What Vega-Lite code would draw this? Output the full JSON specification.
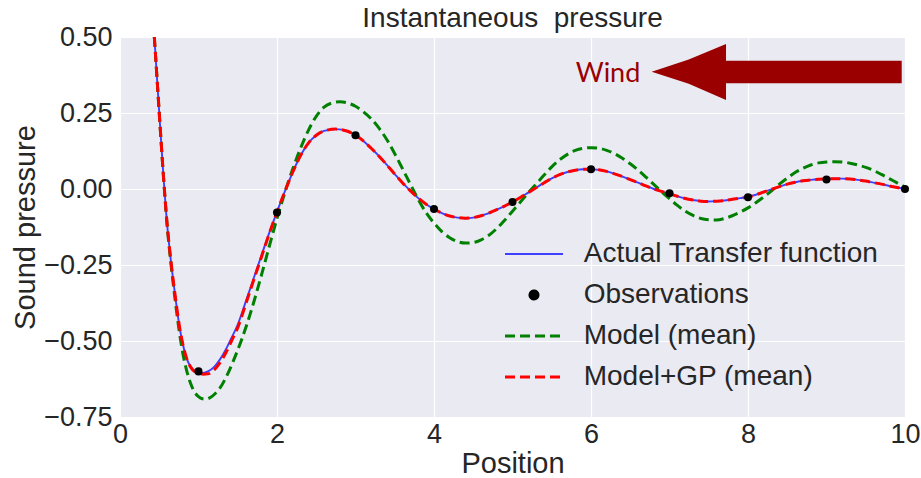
{
  "$schema": "https://vega.github.io/schema/vega-lite/v6.json",
  "width": 785,
  "height": 380,
  "autosize": {"type": "none"},
  "padding": {"left": 120, "top": 37, "right": 16, "bottom": 61},
  "background": "#ffffff",
  "title": {"text": "Instantaneous\u00a0 pressure", "font": "Liberation Sans", "fontSize": 28, "fontWeight": "normal", "color": "#262626", "frame": "group", "anchor": "middle", "baseline": "alphabetic", "offset": -32},
  "config": {
    "view": {"fill": "#EAEAF2", "stroke": null},
    "axis": {"domain": false, "ticks": false, "gridColor": "#ffffff", "gridWidth": 1.2, "labelFont": "Liberation Sans", "labelFontSize": 27, "labelColor": "#262626", "titleFont": "Liberation Sans", "titleFontSize": 29, "titleFontWeight": "normal", "titleColor": "#262626"}
  },
  "datasets": {
    "actual": [
      {"x":0.437,"y":0.5},{"x":0.45,"y":0.45},{"x":0.5,"y":0.25},{"x":0.55,"y":0.055},{"x":0.6,"y":-0.115},{"x":0.65,"y":-0.24},{"x":0.7,"y":-0.345},{"x":0.75,"y":-0.44},{"x":0.8,"y":-0.51},{"x":0.85,"y":-0.558},{"x":0.9,"y":-0.585},{"x":0.95,"y":-0.598},{"x":1.0,"y":-0.603},{"x":1.06,"y":-0.605},{"x":1.12,"y":-0.6},{"x":1.2,"y":-0.585},{"x":1.27,"y":-0.562},{"x":1.35,"y":-0.527},{"x":1.42,"y":-0.49},{"x":1.5,"y":-0.446},{"x":1.6,"y":-0.372},{"x":1.7,"y":-0.296},{"x":1.8,"y":-0.22},{"x":1.9,"y":-0.145},{"x":2.0,"y":-0.075},{"x":2.1,"y":-0.008},{"x":2.2,"y":0.055},{"x":2.3,"y":0.11},{"x":2.4,"y":0.151},{"x":2.5,"y":0.177},{"x":2.6,"y":0.191},{"x":2.75,"y":0.197},{"x":2.9,"y":0.19},{"x":3.0,"y":0.177},{"x":3.1,"y":0.158},{"x":3.2,"y":0.134},{"x":3.3,"y":0.108},{"x":3.4,"y":0.079},{"x":3.5,"y":0.049},{"x":3.6,"y":0.02},{"x":3.7,"y":-0.006},{"x":3.8,"y":-0.03},{"x":3.9,"y":-0.05},{"x":4.0,"y":-0.066},{"x":4.1,"y":-0.079},{"x":4.2,"y":-0.089},{"x":4.3,"y":-0.094},{"x":4.4,"y":-0.096},{"x":4.5,"y":-0.094},{"x":4.6,"y":-0.088},{"x":4.7,"y":-0.079},{"x":4.8,"y":-0.068},{"x":4.9,"y":-0.056},{"x":5.0,"y":-0.043},{"x":5.1,"y":-0.028},{"x":5.2,"y":-0.012},{"x":5.3,"y":0.004},{"x":5.4,"y":0.02},{"x":5.5,"y":0.035},{"x":5.6,"y":0.047},{"x":5.7,"y":0.056},{"x":5.8,"y":0.062},{"x":5.9,"y":0.065},{"x":6.0,"y":0.065},{"x":6.1,"y":0.063},{"x":6.2,"y":0.058},{"x":6.3,"y":0.05},{"x":6.4,"y":0.041},{"x":6.5,"y":0.031},{"x":6.6,"y":0.021},{"x":6.7,"y":0.01},{"x":6.8,"y":0.0},{"x":6.9,"y":-0.008},{"x":7.0,"y":-0.016},{"x":7.1,"y":-0.024},{"x":7.2,"y":-0.031},{"x":7.3,"y":-0.036},{"x":7.4,"y":-0.04},{"x":7.5,"y":-0.041},{"x":7.6,"y":-0.04},{"x":7.7,"y":-0.038},{"x":7.8,"y":-0.034},{"x":7.9,"y":-0.03},{"x":8.0,"y":-0.026},{"x":8.1,"y":-0.019},{"x":8.2,"y":-0.01},{"x":8.3,"y":-0.001},{"x":8.4,"y":0.008},{"x":8.5,"y":0.016},{"x":8.6,"y":0.022},{"x":8.7,"y":0.027},{"x":8.8,"y":0.03},{"x":8.9,"y":0.032},{"x":9.0,"y":0.033},{"x":9.1,"y":0.034},{"x":9.2,"y":0.034},{"x":9.3,"y":0.033},{"x":9.4,"y":0.03},{"x":9.5,"y":0.026},{"x":9.6,"y":0.021},{"x":9.7,"y":0.016},{"x":9.8,"y":0.01},{"x":9.9,"y":0.005},{"x":10.0,"y":0.0}
    ],
    "model": [
      {"x":0.437,"y":0.5},{"x":0.45,"y":0.45},{"x":0.5,"y":0.25},{"x":0.55,"y":0.055},{"x":0.6,"y":-0.118},{"x":0.65,"y":-0.248},{"x":0.7,"y":-0.36},{"x":0.75,"y":-0.46},{"x":0.8,"y":-0.54},{"x":0.85,"y":-0.598},{"x":0.9,"y":-0.64},{"x":0.95,"y":-0.668},{"x":1.0,"y":-0.683},{"x":1.05,"y":-0.69},{"x":1.1,"y":-0.691},{"x":1.15,"y":-0.686},{"x":1.2,"y":-0.676},{"x":1.27,"y":-0.656},{"x":1.35,"y":-0.62},{"x":1.44,"y":-0.568},{"x":1.55,"y":-0.495},{"x":1.66,"y":-0.41},{"x":1.8,"y":-0.285},{"x":1.9,"y":-0.19},{"x":2.0,"y":-0.097},{"x":2.1,"y":-0.012},{"x":2.2,"y":0.066},{"x":2.3,"y":0.134},{"x":2.4,"y":0.193},{"x":2.5,"y":0.239},{"x":2.6,"y":0.269},{"x":2.7,"y":0.283},{"x":2.8,"y":0.287},{"x":2.9,"y":0.283},{"x":3.0,"y":0.272},{"x":3.1,"y":0.254},{"x":3.2,"y":0.231},{"x":3.3,"y":0.2},{"x":3.4,"y":0.162},{"x":3.5,"y":0.116},{"x":3.6,"y":0.066},{"x":3.7,"y":0.015},{"x":3.8,"y":-0.035},{"x":3.9,"y":-0.078},{"x":4.0,"y":-0.112},{"x":4.1,"y":-0.14},{"x":4.2,"y":-0.16},{"x":4.3,"y":-0.173},{"x":4.4,"y":-0.178},{"x":4.5,"y":-0.176},{"x":4.6,"y":-0.167},{"x":4.7,"y":-0.152},{"x":4.8,"y":-0.13},{"x":4.9,"y":-0.103},{"x":5.0,"y":-0.073},{"x":5.1,"y":-0.043},{"x":5.2,"y":-0.013},{"x":5.3,"y":0.016},{"x":5.4,"y":0.045},{"x":5.5,"y":0.073},{"x":5.6,"y":0.096},{"x":5.7,"y":0.114},{"x":5.8,"y":0.127},{"x":5.9,"y":0.134},{"x":6.0,"y":0.136},{"x":6.1,"y":0.134},{"x":6.2,"y":0.127},{"x":6.3,"y":0.116},{"x":6.4,"y":0.101},{"x":6.5,"y":0.083},{"x":6.6,"y":0.062},{"x":6.7,"y":0.039},{"x":6.8,"y":0.015},{"x":6.9,"y":-0.009},{"x":7.0,"y":-0.032},{"x":7.1,"y":-0.054},{"x":7.2,"y":-0.073},{"x":7.3,"y":-0.087},{"x":7.4,"y":-0.097},{"x":7.5,"y":-0.101},{"x":7.6,"y":-0.102},{"x":7.7,"y":-0.097},{"x":7.8,"y":-0.088},{"x":7.9,"y":-0.076},{"x":8.0,"y":-0.062},{"x":8.1,"y":-0.045},{"x":8.2,"y":-0.026},{"x":8.3,"y":-0.006},{"x":8.4,"y":0.016},{"x":8.5,"y":0.036},{"x":8.6,"y":0.054},{"x":8.7,"y":0.068},{"x":8.8,"y":0.079},{"x":8.9,"y":0.086},{"x":9.0,"y":0.089},{"x":9.1,"y":0.09},{"x":9.2,"y":0.089},{"x":9.3,"y":0.085},{"x":9.4,"y":0.079},{"x":9.5,"y":0.071},{"x":9.6,"y":0.061},{"x":9.7,"y":0.048},{"x":9.8,"y":0.034},{"x":9.9,"y":0.02},{"x":10.0,"y":0.006}
    ],
    "gp": [
      {"x":0.437,"y":0.5},{"x":0.45,"y":0.45},{"x":0.5,"y":0.25},{"x":0.55,"y":0.055},{"x":0.6,"y":-0.115},{"x":0.65,"y":-0.24},{"x":0.7,"y":-0.345},{"x":0.75,"y":-0.44},{"x":0.8,"y":-0.51},{"x":0.85,"y":-0.558},{"x":0.9,"y":-0.586},{"x":0.95,"y":-0.6},{"x":1.0,"y":-0.604},{"x":1.06,"y":-0.609},{"x":1.12,"y":-0.608},{"x":1.2,"y":-0.595},{"x":1.27,"y":-0.573},{"x":1.35,"y":-0.538},{"x":1.42,"y":-0.5},{"x":1.5,"y":-0.456},{"x":1.6,"y":-0.38},{"x":1.7,"y":-0.302},{"x":1.8,"y":-0.225},{"x":1.9,"y":-0.148},{"x":2.0,"y":-0.076},{"x":2.1,"y":-0.008},{"x":2.2,"y":0.055},{"x":2.3,"y":0.11},{"x":2.4,"y":0.151},{"x":2.5,"y":0.177},{"x":2.6,"y":0.191},{"x":2.75,"y":0.197},{"x":2.9,"y":0.19},{"x":3.0,"y":0.177},{"x":3.1,"y":0.158},{"x":3.2,"y":0.134},{"x":3.3,"y":0.108},{"x":3.4,"y":0.079},{"x":3.5,"y":0.049},{"x":3.6,"y":0.02},{"x":3.7,"y":-0.006},{"x":3.8,"y":-0.03},{"x":3.9,"y":-0.05},{"x":4.0,"y":-0.066},{"x":4.1,"y":-0.079},{"x":4.2,"y":-0.089},{"x":4.3,"y":-0.094},{"x":4.4,"y":-0.096},{"x":4.5,"y":-0.094},{"x":4.6,"y":-0.088},{"x":4.7,"y":-0.079},{"x":4.8,"y":-0.068},{"x":4.9,"y":-0.056},{"x":5.0,"y":-0.043},{"x":5.1,"y":-0.028},{"x":5.2,"y":-0.012},{"x":5.3,"y":0.004},{"x":5.4,"y":0.02},{"x":5.5,"y":0.035},{"x":5.6,"y":0.047},{"x":5.7,"y":0.056},{"x":5.8,"y":0.062},{"x":5.9,"y":0.065},{"x":6.0,"y":0.065},{"x":6.1,"y":0.063},{"x":6.2,"y":0.058},{"x":6.3,"y":0.05},{"x":6.4,"y":0.041},{"x":6.5,"y":0.031},{"x":6.6,"y":0.021},{"x":6.7,"y":0.01},{"x":6.8,"y":0.0},{"x":6.9,"y":-0.008},{"x":7.0,"y":-0.016},{"x":7.1,"y":-0.024},{"x":7.2,"y":-0.031},{"x":7.3,"y":-0.036},{"x":7.4,"y":-0.04},{"x":7.5,"y":-0.041},{"x":7.6,"y":-0.04},{"x":7.7,"y":-0.038},{"x":7.8,"y":-0.034},{"x":7.9,"y":-0.03},{"x":8.0,"y":-0.026},{"x":8.1,"y":-0.019},{"x":8.2,"y":-0.01},{"x":8.3,"y":-0.001},{"x":8.4,"y":0.008},{"x":8.5,"y":0.016},{"x":8.6,"y":0.022},{"x":8.7,"y":0.027},{"x":8.8,"y":0.03},{"x":8.9,"y":0.032},{"x":9.0,"y":0.033},{"x":9.1,"y":0.034},{"x":9.2,"y":0.034},{"x":9.3,"y":0.033},{"x":9.4,"y":0.03},{"x":9.5,"y":0.026},{"x":9.6,"y":0.021},{"x":9.7,"y":0.016},{"x":9.8,"y":0.01},{"x":9.9,"y":0.005},{"x":10.0,"y":0.0}
    ],
    "obs": [
      {"x":1,"y":-0.6},{"x":2,"y":-0.077},{"x":3,"y":0.177},{"x":4,"y":-0.066},{"x":5,"y":-0.043},{"x":6,"y":0.065},{"x":7,"y":-0.014},{"x":8,"y":-0.027},{"x":9,"y":0.031},{"x":10,"y":0.0}
    ],
    "shaft": [{"x":7.70,"x2":9.958,"y":0.422,"y2":0.348}],
    "head": [{"x":6.773,"y":0.386,"y2":0.386},{"x":7.245,"y":0.426,"y2":0.346},{"x":7.72,"y":0.477,"y2":0.293}],
    "label": [{"x":6.217,"y":0.352,"text":"Wind"}]
  },
  "encoding": {
    "x": {"field": "x", "type": "quantitative", "scale": {"domain": [0, 10], "nice": false, "zero": false},
      "axis": {"values": [0, 2, 4, 6, 8, 10], "format": "d", "title": "Position", "labelFlush": false, "labelOverlap": false, "labelPadding": 4, "titlePadding": 2}},
    "y": {"field": "y", "type": "quantitative", "scale": {"domain": [-0.75, 0.5], "nice": false, "zero": false},
      "axis": {"values": [-0.75, -0.5, -0.25, 0, 0.25, 0.5], "format": ".2f", "title": "Sound pressure", "labelPadding": 8, "titlePadding": 3, "labelOverlap": false}}
  },
  "layer": [
    {
      "data": {"name": "actual"},
      "mark": {"type": "line", "clip": true, "interpolate": "monotone", "strokeWidth": 1.9},
      "encoding": {
        "color": {"datum": "Actual Transfer function", "type": "nominal",
          "scale": {"domain": ["Actual Transfer function", "Observations", "Model (mean)", "Model+GP (mean)"], "range": ["#3f3fff", "#000000", "#008000", "#ff0000"]},
          "legend": {
            "title": null,
            "orient": "none",
            "legendX": 371,
            "legendY": 203,
            "padding": 0,
            "symbolType": "M0,0H5",
            "symbolSize": 538,
            "symbolStrokeWidth": 3,
            "labelFont": "Liberation Sans",
            "labelFontSize": 28,
            "labelColor": "#262626",
            "labelOffset": 64.7,
            "labelLimit": 500,
            "rowPadding": 13,
            "encode": {
              "symbols": {
                "update": {
                  "shape": {"signal": "datum.label === 'Observations' ? 'M2.155,0A0.345,0.345,0,1,0,2.845,0A0.345,0.345,0,1,0,2.155,0Z' : 'M0,0H5'"},
                  "fill": {"signal": "datum.label === 'Observations' ? '#000000' : 'transparent'"},
                  "stroke": {"signal": "datum.label === 'Observations' ? 'transparent' : datum.label === 'Actual Transfer function' ? '#3f3fff' : datum.label === 'Model (mean)' ? '#008000' : '#ff0000'"},
                  "strokeWidth": {"signal": "datum.label === 'Actual Transfer function' ? 1.9 : 3"},
                  "strokeDash": {"signal": "datum.label === 'Model (mean)' || datum.label === 'Model+GP (mean)' ? [10, 5] : [1, 0]"},
                  "opacity": {"value": 1}
                }
              }
            }
          }
        }
      }
    },
    {
      "data": {"name": "model"},
      "mark": {"type": "line", "clip": true, "interpolate": "monotone", "strokeWidth": 3, "strokeDash": [10, 5]},
      "encoding": {"color": {"datum": "Model (mean)", "type": "nominal"}}
    },
    {
      "data": {"name": "gp"},
      "mark": {"type": "line", "clip": true, "interpolate": "monotone", "strokeWidth": 3, "strokeDash": [10, 5]},
      "encoding": {"color": {"datum": "Model+GP (mean)", "type": "nominal"}}
    },
    {
      "data": {"name": "obs"},
      "mark": {"type": "point", "filled": true, "size": 65, "opacity": 1, "clip": false},
      "encoding": {"color": {"datum": "Observations", "type": "nominal"}}
    },
    {
      "data": {"name": "shaft"},
      "mark": {"type": "rect", "color": "#9a0000"},
      "encoding": {"x2": {"field": "x2"}, "y2": {"field": "y2"}}
    },
    {
      "data": {"name": "head"},
      "mark": {"type": "area", "color": "#9a0000", "opacity": 1},
      "encoding": {"y2": {"field": "y2"}}
    },
    {
      "data": {"name": "label"},
      "mark": {"type": "text", "font": "Lato", "fontSize": 27, "color": "#9a0000", "align": "center", "baseline": "alphabetic"},
      "encoding": {"text": {"field": "text"}}
    }
  ]
}
